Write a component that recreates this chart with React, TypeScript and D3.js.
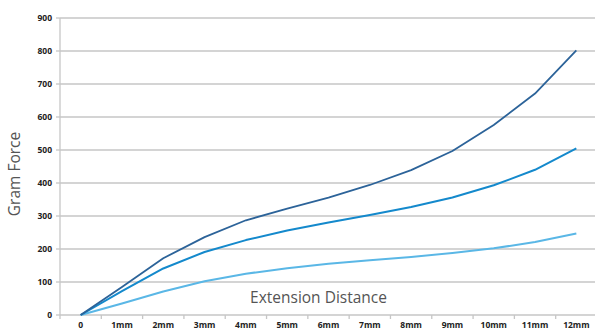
import React from "react";
import * as d3 from "d3";

const categories = ["0", "1mm", "2mm", "3mm", "4mm", "5mm", "6mm", "7mm", "8mm", "9mm", "10mm", "11mm", "12mm"];
const seriesHigh = [0, 85, 172, 236, 287, 322, 356, 394, 439, 497, 576, 671, 802];
const seriesMid = [0, 72, 141, 191, 227, 256, 280, 303, 327, 356, 393, 440, 505];
const seriesLow = [0, 35, 71, 102, 125, 142, 155, 166, 176, 188, 202, 221, 247];
const yTicks = [0, 100, 200, 300, 400, 500, 600, 700, 800, 900];

const W = 595, H = 331;
const left = 60, right = 597, top = 18, bottom = 315;

export default function App() {
  const x = d3.scaleBand<string>().domain(categories).range([left, right]).padding(0);
  const y = d3.scaleLinear().domain([0, 900]).range([bottom, top]);
  const cx = (i: number) => (x(categories[i]) as number) + x.bandwidth() / 2;
  const line = d3.line<number>().x((_, i) => cx(i)).y((d) => y(d));
  const series = [
    { data: seriesLow, color: "#5ab7e6", w: 2 },
    { data: seriesMid, color: "#1489cc", w: 2 },
    { data: seriesHigh, color: "#2c6399", w: 1.8 },
  ];
  const font = "'Open Sans', sans-serif";
  return (
    <svg width={W} height={H} style={{ position: "absolute", left: 0, top: 0, background: "#fff" }}>
      {yTicks.map((t) => (
        <g key={t}>
          {t > 0 && <line x1={left} x2={W} y1={y(t)} y2={y(t)} stroke="#c6c6c6" strokeWidth={1.3} />}
          <line x1={left - 4} x2={left} y1={y(t)} y2={y(t)} stroke="#c6c6c6" strokeWidth={1.3} />
          <text x={left - 8} y={y(t)} dy="0.35em" textAnchor="end" fontFamily={font} fontWeight={700} fontSize={8.5} fill="#222">
            {t}
          </text>
        </g>
      ))}
      <line x1={left} x2={left} y1={top} y2={bottom + 4} stroke="#c6c6c6" strokeWidth={1.3} />
      <line x1={left} x2={W} y1={bottom} y2={bottom} stroke="#c6c6c6" strokeWidth={1.3} />
      {categories.map((c, i) => (
        <g key={c}>
          <line x1={(x(c) as number) + x.bandwidth()} x2={(x(c) as number) + x.bandwidth()} y1={bottom} y2={bottom + 4} stroke="#c6c6c6" strokeWidth={1.3} />
          <text x={cx(i)} y={bottom + 13} textAnchor="middle" fontFamily={font} fontWeight={700} fontSize={8.5} fill="#222">
            {c}
          </text>
        </g>
      ))}
      {series.map((s, k) => (
        <path key={k} d={line(s.data) as string} fill="none" stroke={s.color} strokeWidth={s.w} strokeLinejoin="round" />
      ))}
      <text x={318.5} y={298} dy="0.35em" textAnchor="middle" fontFamily={font} fontSize={15.5} fill="#555">
        Extension Distance
      </text>
      <text transform={`translate(15,174) rotate(-90)`} dy="0.35em" textAnchor="middle" fontFamily={font} fontSize={15.5} fill="#555">
        Gram Force
      </text>
    </svg>
  );
}
